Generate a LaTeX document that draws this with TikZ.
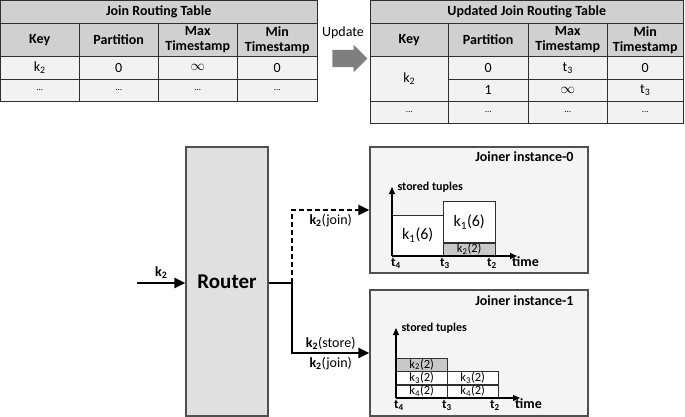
\documentclass[tikz,border=0pt]{standalone}
\usepackage{fontspec}
\setmainfont{Carlito}
\usetikzlibrary{arrows.meta,positioning,shapes.arrows}

\definecolor{headgray}{HTML}{D0D0D0}
\definecolor{cellgray}{HTML}{F2F2F2}
\definecolor{routergray}{HTML}{E0E0E0}
\definecolor{joinergray}{HTML}{F4F4F4}
\definecolor{blockgray}{HTML}{C8C8C8}
\definecolor{arrowgray}{HTML}{7F7F7F}
\definecolor{linegray}{HTML}{303030}
\definecolor{boxgray}{HTML}{505050}

\newcommand{\ksub}[1]{k\textsubscript{#1}}
\newcommand{\tsub}[1]{t\textsubscript{#1}}

\begin{document}
\begin{tikzpicture}[x=1pt,y=-1pt,
  every node/.style={font=\fontsize{14}{16}\selectfont},
  cell/.style={draw=linegray, fill=cellgray, anchor=north west, inner sep=0pt, minimum height=23, minimum width=79},
  headcell/.style={cell, fill=headgray, align=center, minimum height=33, font=\fontsize{14}{15}\selectfont\bfseries},
  titlecell/.style={cell, fill=headgray, font=\fontsize{14}{16}\selectfont\bfseries},
  tabframe/.style={draw=linegray, line width=1pt},
  box/.style={draw=boxgray, line width=1.2pt},
  flow/.style={line width=2.2pt, -{Triangle[length=11pt,width=10pt]}},
  axis/.style={line width=1.1pt, -{Triangle[length=7pt,width=6pt]}},
  block/.style={draw=linegray, fill=white, anchor=south west, inner sep=0pt, minimum width=51, font=\fontsize{12.5}{13}\selectfont},
  tick/.style={below, inner sep=2pt, font=\fontsize{13}{14}\selectfont\bfseries},
  axlabel/.style={inner sep=0pt, font=\fontsize{12}{13}\selectfont\bfseries},
]
\useasboundingbox (0,0) rectangle (685,417);

% Join routing table
\node[titlecell, minimum width=317] (jt) at (0,0) {Join Routing Table};
\foreach \x/\w/\name/\txt in {0/79/key/Key, 79/79/part/Partition, 158/79/max/Max\\Timestamp, 237/80/min/Min\\Timestamp}
  \node[headcell, minimum width=\w] (jt-\name) at (\x,23) {\txt};
\foreach \x/\w/\name/\txt in {0/79/key/\ksub{2}, 79/79/part/0, 158/79/max/$\infty$, 237/80/min/0}
  \node[cell, minimum width=\w] (jt-\name-1) at (\x,56) {\txt};
\foreach \x/\w/\name in {0/79/key, 79/79/part, 158/79/max, 237/80/min}
  \node[cell, minimum width=\w, minimum height=22] (jt-\name-2) at (\x,79) {\small...};
\draw[tabframe] (jt.north west) rectangle (jt-min-2.south east);

% Update arrow
\node (upd) at (343,33) {Update};
\node[single arrow, fill=arrowgray, inner xsep=0pt, inner ysep=8.5pt, minimum height=35,
  single arrow head extend=5pt] (updarrow) at (345.5,58.5) {};

% Updated join routing table
\node[titlecell, minimum width=313] (ut) at (370,0) {Updated Join Routing Table};
\foreach \x/\w/\name/\txt in {370/78/key/Key, 448/80/part/Partition, 528/79/max/Max\\Timestamp, 607/76/min/Min\\Timestamp}
  \node[headcell, minimum width=\w] (ut-\name) at (\x,23) {\txt};
\node[cell, minimum width=78, minimum height=45] (ut-key-1) at (370,56) {\ksub{2}};
\foreach \x/\w/\name/\txt in {448/80/part/0, 528/79/max/\tsub{3}, 607/76/min/0}
  \node[cell, minimum width=\w] (ut-\name-1) at (\x,56) {\txt};
\foreach \x/\w/\name/\txt in {448/80/part/1, 528/79/max/$\infty$, 607/76/min/\tsub{3}}
  \node[cell, minimum width=\w, minimum height=22] (ut-\name-2) at (\x,79) {\txt};
\foreach \x/\w/\name in {370/78/key, 448/80/part, 528/79/max, 607/76/min}
  \node[cell, minimum width=\w, minimum height=22] (ut-\name-3) at (\x,101) {\small...};
\draw[tabframe] (ut.north west) rectangle (ut-min-3.south east);

% Router and joiners
\node[box, fill=routergray, minimum width=82, minimum height=269, font=\fontsize{21}{24}\selectfont\bfseries] (router) at (227,281.5) {Router};
\node[box, fill=joinergray, minimum width=218, minimum height=126] (joiner0) at (479,210) {};
\node[box, fill=joinergray, minimum width=218, minimum height=126] (joiner1) at (479,353) {};
\node[below left=5pt and 15pt of joiner0.north east, inner sep=0pt, font=\fontsize{14}{16}\selectfont\bfseries] (jn0) {Joiner instance-0};
\node[below left=6pt and 15pt of joiner1.north east, inner sep=0pt, font=\fontsize{14}{16}\selectfont\bfseries] (jn1) {Joiner instance-1};

% Connectors
\coordinate (src) at (137,283);
\coordinate (split) at (292,283);
\draw[flow] (src) -- (src -| router.west) node[midway, above, font=\fontsize{14}{16}\selectfont\bfseries] (lk) {\ksub{2}};
\draw[line width=2.2pt] (split -| router.east) -- (split);
\draw[flow, dash pattern=on 5pt off 3pt] (split) |- (joiner0.west)
  node[pos=0.75, below] (lj0) {\textbf{\ksub{2}}(join)};
\draw[flow] (split) |- (joiner1.west)
  node[pos=0.75, above, inner sep=2pt] (ls1) {\textbf{\ksub{2}}(store)}
  node[pos=0.75, below, inner sep=3pt] (lj1) {\textbf{\ksub{2}}(join)};

% Joiner instance-0 chart
\coordinate (o0) at (392,256);
\node[block, minimum height=41, font=\fontsize{16}{18}\selectfont] (b0a) at (o0) {\ksub{1}(6)};
\node[block, fill=blockgray, minimum width=52, minimum height=13] (b0b) at (443,256) {\ksub{2}(2)};
\node[block, minimum width=52, minimum height=41, font=\fontsize{16}{18}\selectfont] (b0c) at (b0b.north west) {\ksub{1}(6)};
\draw[axis] (o0) -- (392,187) node[axlabel, right=5pt] (st0) {stored tuples};
\draw[axis] (o0) -- (517,256);
\node[axlabel, anchor=north west, font=\fontsize{14}{16}\selectfont\bfseries] (tm0) at (512,256) {time};
\node[tick] (t0a) at (396,256) {\tsub{4}};
\node[tick] (t0b) at (445,256) {\tsub{3}};
\node[tick] (t0c) at (492,256) {\tsub{2}};

% Joiner instance-1 chart
\coordinate (o1) at (396,398);
\node[block, minimum height=13] (b1a) at (o1) {\ksub{4}(2)};
\node[block, minimum height=13] (b1b) at (b1a.north west) {\ksub{3}(2)};
\node[block, fill=blockgray, minimum height=13] (b1c) at (b1b.north west) {\ksub{2}(2)};
\node[block, minimum height=13] (b1d) at (447,398) {\ksub{4}(2)};
\node[block, minimum height=13] (b1e) at (b1d.north west) {\ksub{3}(2)};
\draw[axis] (o1) -- (396,328) node[axlabel, right=5pt] (st1) {stored tuples};
\draw[axis] (o1) -- (520,398);
\node[axlabel, anchor=north west, font=\fontsize{14}{16}\selectfont\bfseries] (tm1) at (515,398) {time};
\node[tick] (t1a) at (399,398) {\tsub{4}};
\node[tick] (t1b) at (447,398) {\tsub{3}};
\node[tick] (t1c) at (495,398) {\tsub{2}};
\end{tikzpicture}
\end{document}
